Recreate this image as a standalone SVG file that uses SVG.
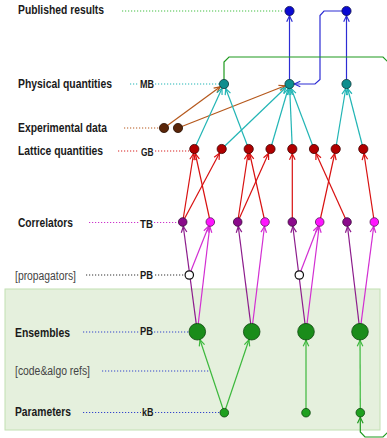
<svg xmlns="http://www.w3.org/2000/svg" width="387" height="438" viewBox="0 0 387 438">
<style>
.lbl{font-family:"Liberation Sans",Arial,sans-serif;font-weight:bold;font-size:12px;fill:#1a1a1a}
.lbn{font-family:"Liberation Sans",Arial,sans-serif;font-size:12px;fill:#444}
.tag{font-family:"Liberation Sans",Arial,sans-serif;font-weight:bold;font-size:10px;fill:#1a1a1a}
.dot{fill:none;stroke-width:1.2;stroke-dasharray:1.2 1.8}
.e{fill:none;stroke-width:1.2}
.n{stroke-width:0.8}
</style>
<defs>
<marker id="mTeal" markerUnits="userSpaceOnUse" orient="auto" refX="4.8" refY="0" markerWidth="10" markerHeight="10" overflow="visible"><path d="M-6,-2.8L0,0L-6,2.8" fill="none" stroke="#22b5b5" stroke-width="1.2"/></marker>
<marker id="mBrown" markerUnits="userSpaceOnUse" orient="auto" refX="4.8" refY="0" markerWidth="10" markerHeight="10" overflow="visible"><path d="M-6,-2.8L0,0L-6,2.8" fill="none" stroke="#b5581c" stroke-width="1.2"/></marker>
<marker id="mRed" markerUnits="userSpaceOnUse" orient="auto" refX="4.8" refY="0" markerWidth="10" markerHeight="10" overflow="visible"><path d="M-6,-2.8L0,0L-6,2.8" fill="none" stroke="#d81010" stroke-width="1.2"/></marker>
<marker id="mBlue" markerUnits="userSpaceOnUse" orient="auto" refX="4.8" refY="0" markerWidth="10" markerHeight="10" overflow="visible"><path d="M-6,-2.8L0,0L-6,2.8" fill="none" stroke="#2c2cd4" stroke-width="1.2"/></marker>
<marker id="mPurple" markerUnits="userSpaceOnUse" orient="auto" refX="4.5" refY="0" markerWidth="10" markerHeight="10" overflow="visible"><path d="M-6,-2.8L0,0L-6,2.8" fill="none" stroke="#8c1c8c" stroke-width="1.2"/></marker>
<marker id="mMag" markerUnits="userSpaceOnUse" orient="auto" refX="4.5" refY="0" markerWidth="10" markerHeight="10" overflow="visible"><path d="M-6,-2.8L0,0L-6,2.8" fill="none" stroke="#d22ed2" stroke-width="1.2"/></marker>
<marker id="mGreenBig" markerUnits="userSpaceOnUse" orient="auto" refX="8.6" refY="0" markerWidth="10" markerHeight="10" overflow="visible"><path d="M-6,-2.8L0,0L-6,2.8" fill="none" stroke="#3cb83c" stroke-width="1.2"/></marker>
<marker id="mGreenSmall" markerUnits="userSpaceOnUse" orient="auto" refX="4.6" refY="0" markerWidth="10" markerHeight="10" overflow="visible"><path d="M-6,-2.8L0,0L-6,2.8" fill="none" stroke="#1f9a1f" stroke-width="1.2"/></marker>
</defs>
<rect width="387" height="438" fill="#ffffff"/>
<rect id="panel" x="5" y="289" width="375" height="141" fill="#e5f0dd" stroke="#c2e0b2" stroke-width="1"/>

<g id="labels">
<text class="lbl" x="18" y="14" textLength="86" lengthAdjust="spacingAndGlyphs">Published results</text>
<text class="lbl" x="18" y="88" textLength="94" lengthAdjust="spacingAndGlyphs">Physical quantities</text>
<text class="lbl" x="18" y="132" textLength="89" lengthAdjust="spacingAndGlyphs">Experimental data</text>
<text class="lbl" x="18" y="155" textLength="85" lengthAdjust="spacingAndGlyphs">Lattice quantities</text>
<text class="lbl" x="18" y="227" textLength="55" lengthAdjust="spacingAndGlyphs">Correlators</text>
<text class="lbn" x="15" y="280" textLength="61" lengthAdjust="spacingAndGlyphs">[propagators]</text>
<text class="lbl" x="15" y="337" textLength="55" lengthAdjust="spacingAndGlyphs">Ensembles</text>
<text class="lbn" x="15" y="375" textLength="75" lengthAdjust="spacingAndGlyphs">[code&amp;algo refs]</text>
<text class="lbl" x="15" y="416" textLength="56" lengthAdjust="spacingAndGlyphs">Parameters</text>
<text class="tag" x="140" y="87.5" textLength="14" lengthAdjust="spacingAndGlyphs">MB</text>
<text class="tag" x="141" y="155.5" textLength="12.5" lengthAdjust="spacingAndGlyphs">GB</text>
<text class="tag" x="140" y="227.5" textLength="13" lengthAdjust="spacingAndGlyphs">TB</text>
<text class="tag" x="140" y="279" textLength="13" lengthAdjust="spacingAndGlyphs">PB</text>
<text class="tag" x="140" y="334.5" textLength="13" lengthAdjust="spacingAndGlyphs">PB</text>
<text class="tag" x="142" y="415.5" textLength="11.5" lengthAdjust="spacingAndGlyphs">kB</text>
</g>

<g id="leaders">
<path class="dot" stroke="#44c044" d="M122,11L284,11"/>
<path class="dot" stroke="#22b5b5" d="M130,84L139,84M155,84L219,84"/>
<path class="dot" stroke="#b5581c" d="M124,128L159,128"/>
<path class="dot" stroke="#d82020" d="M118,151L139,151M155,151L189,151"/>
<path class="dot" stroke="#cc33cc" d="M89,222.5L139,222.5M154,222.5L178,222.5"/>
<path class="dot" stroke="#333333" d="M86,275L139,275M155,275L185,275"/>
<path class="dot" stroke="#3344cc" d="M83,332L139,332M154,332L189,332"/>
<path class="dot" stroke="#3344cc" d="M102,371L210,371"/>
<path class="dot" stroke="#3344cc" d="M83,412.5L141,412.5M155,412.5L220,412.5"/>
</g>

<g id="connectors">
<!-- blue -->
<path class="e" stroke="#2c2cd4" marker-end="url(#mBlue)" d="M289.5,84L289.5,11"/>
<path class="e" stroke="#2c2cd4" marker-end="url(#mBlue)" d="M346.5,84L346.5,11"/>
<path class="e" stroke="#2c2cd4" marker-end="url(#mBlue)" d="M346.5,11L324,11L320,15.5L320,79.5L315,84L289.5,84"/>
<!-- green loop -->
<path class="e" stroke="#1f9a1f" marker-end="url(#mGreenSmall)" d="M224,84L224,62L229,57L383,57L388,62L388,432L383,437L365,437L360.3,432L360.3,412.7"/>
<!-- brown -->
<path class="e" stroke="#b5581c" marker-end="url(#mBrown)" d="M164,128L224,84"/>
<path class="e" stroke="#b5581c" marker-end="url(#mBrown)" d="M178,128L289.5,84"/>
<!-- teal -->
<path class="e" stroke="#22b5b5" marker-end="url(#mTeal)" d="M194.3,149L224,84"/>
<path class="e" stroke="#22b5b5" marker-end="url(#mTeal)" d="M248.7,149L224,84"/>
<path class="e" stroke="#22b5b5" marker-end="url(#mTeal)" d="M221.7,149L289.5,84"/>
<path class="e" stroke="#22b5b5" marker-end="url(#mTeal)" d="M270.5,149L289.5,84"/>
<path class="e" stroke="#22b5b5" marker-end="url(#mTeal)" d="M292.3,149L289.5,84"/>
<path class="e" stroke="#22b5b5" marker-end="url(#mTeal)" d="M314,149L289.5,84"/>
<path class="e" stroke="#22b5b5" marker-end="url(#mTeal)" d="M335.7,149L346.5,84"/>
<path class="e" stroke="#22b5b5" marker-end="url(#mTeal)" d="M363.3,149L346.5,84"/>
<!-- red -->
<path class="e" stroke="#d81010" marker-end="url(#mRed)" d="M182.7,222L194.3,149"/>
<path class="e" stroke="#d81010" marker-end="url(#mRed)" d="M182.7,222L221.7,149"/>
<path class="e" stroke="#d81010" marker-end="url(#mRed)" d="M210.3,222L194.3,149"/>
<path class="e" stroke="#d81010" marker-end="url(#mRed)" d="M237.7,222L248.7,149"/>
<path class="e" stroke="#d81010" marker-end="url(#mRed)" d="M237.7,222L270.5,149"/>
<path class="e" stroke="#d81010" marker-end="url(#mRed)" d="M265,222L248.7,149"/>
<path class="e" stroke="#d81010" marker-end="url(#mRed)" d="M292.3,222L292.3,149"/>
<path class="e" stroke="#d81010" marker-end="url(#mRed)" d="M319.7,222L335.7,149"/>
<path class="e" stroke="#d81010" marker-end="url(#mRed)" d="M347,222L314,149"/>
<path class="e" stroke="#d81010" marker-end="url(#mRed)" d="M374.3,222L363.3,149"/>
<!-- purple -->
<path class="e" stroke="#8c1c8c" marker-end="url(#mPurple)" d="M197.3,331.7L182.7,222"/>
<path class="e" stroke="#8c1c8c" marker-end="url(#mPurple)" d="M251.7,331.7L237.7,222"/>
<path class="e" stroke="#8c1c8c" marker-end="url(#mPurple)" d="M306,331.7L292.3,222"/>
<path class="e" stroke="#8c1c8c" marker-end="url(#mPurple)" d="M360,331.7L347,222"/>
<!-- magenta -->
<path class="e" stroke="#d22ed2" marker-end="url(#mMag)" d="M197.3,331.7L210.3,222"/>
<path class="e" stroke="#d22ed2" marker-end="url(#mMag)" d="M189.3,275L210.3,222"/>
<path class="e" stroke="#d22ed2" marker-end="url(#mMag)" d="M251.7,331.7L265,222"/>
<path class="e" stroke="#d22ed2" marker-end="url(#mMag)" d="M306,331.7L319.7,222"/>
<path class="e" stroke="#d22ed2" marker-end="url(#mMag)" d="M299.3,275L319.7,222"/>
<path class="e" stroke="#d22ed2" marker-end="url(#mMag)" d="M360,331.7L374.3,222"/>
<!-- green -->
<path class="e" stroke="#3cb83c" marker-end="url(#mGreenBig)" d="M224.3,412.7L197.3,331.7"/>
<path class="e" stroke="#3cb83c" marker-end="url(#mGreenBig)" d="M224.3,412.7L251.7,331.7"/>
<path class="e" stroke="#3cb83c" marker-end="url(#mGreenBig)" d="M306,412.7L306,331.7"/>
<path class="e" stroke="#3cb83c" marker-end="url(#mGreenBig)" d="M360.3,412.7L360,331.7"/>
</g>

<g id="published">
<circle id="pub1" class="n" cx="289.5" cy="11" r="4.6" fill="#0a0ad2" stroke="#101050"/>
<circle id="pub2" class="n" cx="346.5" cy="11" r="4.6" fill="#0a0ad2" stroke="#101050"/>
</g>
<g id="physical">
<circle id="phys1" class="n" cx="224" cy="84" r="4.6" fill="#0e8e8e" stroke="#0a3838"/>
<circle id="phys2" class="n" cx="289.5" cy="84" r="4.6" fill="#0e8e8e" stroke="#0a3838"/>
<circle id="phys3" class="n" cx="346.5" cy="84" r="4.6" fill="#0e8e8e" stroke="#0a3838"/>
</g>
<g id="experimental">
<circle id="exp1" class="n" cx="164" cy="128" r="4.6" fill="#5a2508" stroke="#2a1004"/>
<circle id="exp2" class="n" cx="178" cy="128" r="4.6" fill="#5a2508" stroke="#2a1004"/>
</g>
<g id="lattice">
<circle id="lat1" class="n" cx="194.3" cy="149" r="4.6" fill="#b00000" stroke="#400000"/>
<circle id="lat2" class="n" cx="221.7" cy="149" r="4.6" fill="#b00000" stroke="#400000"/>
<circle id="lat3" class="n" cx="248.7" cy="149" r="4.6" fill="#b00000" stroke="#400000"/>
<circle id="lat4" class="n" cx="270.5" cy="149" r="4.6" fill="#b00000" stroke="#400000"/>
<circle id="lat5" class="n" cx="292.3" cy="149" r="4.6" fill="#b00000" stroke="#400000"/>
<circle id="lat6" class="n" cx="314" cy="149" r="4.6" fill="#b00000" stroke="#400000"/>
<circle id="lat7" class="n" cx="335.7" cy="149" r="4.6" fill="#b00000" stroke="#400000"/>
<circle id="lat8" class="n" cx="363.3" cy="149" r="4.6" fill="#b00000" stroke="#400000"/>
</g>
<g id="correlators">
<circle id="corr1" class="n" cx="182.7" cy="222" r="4.3" fill="#8b0a8b" stroke="#3a0a3a"/>
<circle id="corr2" class="n" cx="210.3" cy="222" r="4.3" fill="#ff14ff" stroke="#5a1a5a"/>
<circle id="corr3" class="n" cx="237.7" cy="222" r="4.3" fill="#8b0a8b" stroke="#3a0a3a"/>
<circle id="corr4" class="n" cx="265" cy="222" r="4.3" fill="#ff14ff" stroke="#5a1a5a"/>
<circle id="corr5" class="n" cx="292.3" cy="222" r="4.3" fill="#8b0a8b" stroke="#3a0a3a"/>
<circle id="corr6" class="n" cx="319.7" cy="222" r="4.3" fill="#ff14ff" stroke="#5a1a5a"/>
<circle id="corr7" class="n" cx="347" cy="222" r="4.3" fill="#8b0a8b" stroke="#3a0a3a"/>
<circle id="corr8" class="n" cx="374.3" cy="222" r="4.3" fill="#ff14ff" stroke="#5a1a5a"/>
</g>
<g id="propagators">
<circle id="prop1" cx="189.3" cy="275" r="4.2" fill="#ffffff" stroke="#111111" stroke-width="1.2"/>
<circle id="prop2" cx="299.3" cy="275" r="4.2" fill="#ffffff" stroke="#111111" stroke-width="1.2"/>
</g>
<g id="ensembles">
<circle id="ens1" class="n" cx="197.3" cy="331.7" r="8.3" fill="#1a8c1a" stroke="#0c460c"/>
<circle id="ens2" class="n" cx="251.7" cy="331.7" r="8.3" fill="#1a8c1a" stroke="#0c460c"/>
<circle id="ens3" class="n" cx="306" cy="331.7" r="8.3" fill="#1a8c1a" stroke="#0c460c"/>
<circle id="ens4" class="n" cx="360" cy="331.7" r="8.3" fill="#1a8c1a" stroke="#0c460c"/>
</g>
<g id="parameters">
<circle id="par1" class="n" cx="224.3" cy="412.7" r="4.3" fill="#1fa01f" stroke="#0c460c"/>
<circle id="par2" class="n" cx="306" cy="412.7" r="4.3" fill="#1fa01f" stroke="#0c460c"/>
<circle id="par3" class="n" cx="360.3" cy="412.7" r="4.3" fill="#1fa01f" stroke="#0c460c"/>
</g>
</svg>
